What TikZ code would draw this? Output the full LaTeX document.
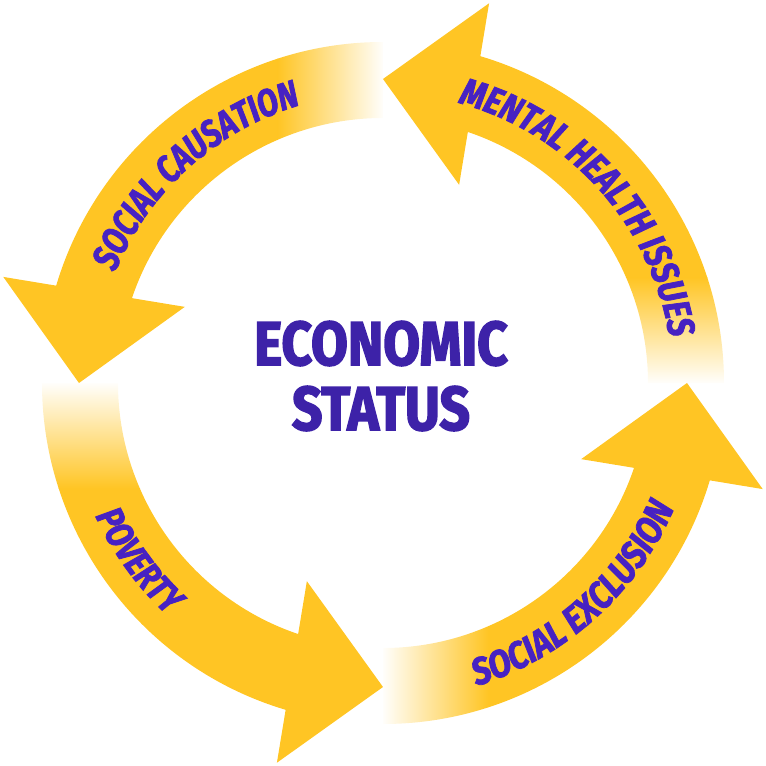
\documentclass[tikz,border=0pt]{standalone}
\usepackage{fontspec}
\setmainfont{Fira Sans}
\newfontfamily\cfont{Fira Sans}[FakeStretch=0.86, FakeBold=2.5]
\newfontfamily\lfont{Fira Sans}[FakeStretch=0.8, FakeBold=2]
\newfontfamily\lfontb{Fira Sans}[FakeStretch=0.83, FakeBold=2]
\newfontfamily\lfontc{Fira Sans}[FakeStretch=0.86, FakeBold=2]
\usetikzlibrary{calc,decorations.text}
\definecolor{ay}{HTML}{FFC524}
\definecolor{lab}{HTML}{4722C2}
\definecolor{ctr}{HTML}{3D22A8}
\newcommand{\labsize}{\bfseries\itshape\fontsize{38}{44}\selectfont}
\tikzset{
  lbl/.style={decorate, decoration={text along path, text align=center, text color=lab}},
  headfill/.style={fill=ay},
}
\begin{document}
\begin{tikzpicture}[x=1pt,y=1pt]
\useasboundingbox (-383,-383) rectangle (383,383);
% arrow bodies
% 1: top -> left
\begin{scope}
  \clip (90:341) arc[start angle=90, end angle=164, radius=341] -- (164:265) arc[start angle=164, end angle=90, radius=265] -- cycle;
  \fill[ay] (-400,-10) rectangle (-105,400);
  \shade[left color=ay, right color=white] (-105.5,150) rectangle (2,400);
\end{scope}
% 2: left -> bottom
\begin{scope}
  \clip (180:341) arc[start angle=180, end angle=254, radius=341] -- (254:265) arc[start angle=254, end angle=180, radius=265] -- cycle;
  \fill[ay] (-400,-400) rectangle (10,-105);
  \shade[bottom color=ay, top color=white] (-400,-105.5) rectangle (-150,2);
\end{scope}
% 3: bottom -> right
\begin{scope}
  \clip (270:341) arc[start angle=270, end angle=344, radius=341] -- (344:265) arc[start angle=344, end angle=270, radius=265] -- cycle;
  \fill[ay] (105,-400) rectangle (400,10);
  \shade[left color=white, right color=ay] (-2,-400) rectangle (105.5,-150);
\end{scope}
% 4: right -> top
\begin{scope}
  \clip (0:341) arc[start angle=0, end angle=74, radius=341] -- (74:265) arc[start angle=74, end angle=0, radius=265] -- cycle;
  \fill[ay] (-10,105) rectangle (400,400);
  \shade[bottom color=white, top color=ay] (150,-2) rectangle (400,105.5);
\end{scope}
% arrow heads
\foreach \a in {90,180,270,0}{
  \coordinate (P) at (\a+72.5:303);
  \coordinate (T) at (\a+90:304);
  \fill[headfill] ($(P)!92pt!90:(T)$) -- (T) -- ($(P)!92pt!-90:(T)$) -- cycle;
}
% labels
\path[lbl, decoration={text={|\lfont\labsize|SOCIAL CAUSATION}}] (172:290) arc[start angle=172, end angle=92, radius=290];
\path[lbl, decoration={text={|\lfontb\labsize|MENTAL HEALTH ISSUES}}] (82:290) arc[start angle=82, end angle=2, radius=290];
\path[lbl, decoration={text={|\lfont\labsize|POVERTY}}] (186:317) arc[start angle=186, end angle=246, radius=317];
\path[lbl, decoration={text={|\lfontc\labsize|SOCIAL EXCLUSION}}] (272:317) arc[start angle=272, end angle=352, radius=317];
% centre
\node[font=\cfont\bfseries\fontsize{62}{62}\selectfont, text=ctr, anchor=base, inner sep=0pt] (econ) at (-2,18) {ECONOMIC};
\node[font=\cfont\bfseries\fontsize{62}{62}\selectfont, text=ctr, anchor=base, inner sep=0pt] (status) at (-2,-47) {STATUS};
\end{tikzpicture}
\end{document}
